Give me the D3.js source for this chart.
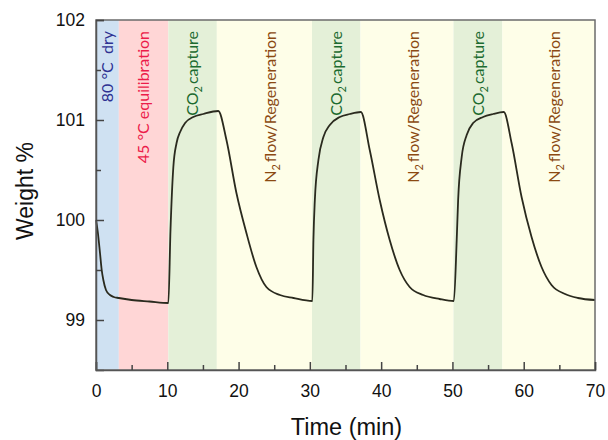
<!DOCTYPE html>
<html>
<head>
<meta charset="utf-8">
<script src="https://cdn.jsdelivr.net/npm/d3@7"></script>
<style>
  html, body { margin: 0; padding: 0; background: #fff; }
  svg { display: block; }
</style>
</head>
<body>
<svg id="chart" width="608" height="440"></svg>
<script>
// ---- Data ----
const timeMin = [
  0, 0.25, 0.56, 0.8, 1.03, 1.4, 1.96, 2.5, 3.2, 5, 7.5, 10.15,
  10.45, 10.85, 11.3, 11.8, 12.5, 13.65, 15.05, 17.15,
  18.3, 19.7, 21.1, 22.5, 23.9, 25.8, 27.7, 30.35,
  30.5, 30.7, 31.2, 31.9, 32.8, 34.2, 35.6, 37.15,
  38.4, 39.8, 41.2, 42.6, 44.0, 45.9, 48.2, 50.2,
  50.6, 50.8, 51.3, 52.0, 52.9, 54.3, 55.7, 57.2,
  58.3, 59.7, 61.1, 62.5, 63.9, 65.8, 67.6, 70
];
const weightPct = [
  100.0, 99.88, 99.67, 99.5, 99.4, 99.3, 99.25, 99.23, 99.22, 99.2, 99.185, 99.17,
  99.9, 100.53, 100.77, 100.88, 100.97, 101.03, 101.06, 101.09,
  100.8, 100.27, 99.87, 99.53, 99.33, 99.25, 99.22, 99.19,
  99.8, 100.2, 100.6, 100.83, 100.95, 101.03, 101.06, 101.08,
  100.7, 100.2, 99.8, 99.5, 99.33, 99.25, 99.21, 99.19,
  99.8, 100.2, 100.63, 100.85, 100.97, 101.03, 101.06, 101.08,
  100.77, 100.23, 99.83, 99.53, 99.35, 99.26, 99.22, 99.2
];

const bandStart = [0, 3.2, 10.15, 16.95, 30.3, 37.1, 50.15, 57.0];
const bandEnd   = [3.2, 10.15, 16.95, 30.3, 37.1, 50.15, 57.0, 70];
const bandType  = ["dry", "equil", "co2", "n2", "co2", "n2", "co2", "n2"];

const xMajorTicks = [0, 10, 20, 30, 40, 50, 60, 70];
const xMinorTicks = [5, 15, 25, 35, 45, 55, 65];
const yMajorTicks = [99, 100, 101, 102];
const yMinorTicks = [99.5, 100.5, 101.5];

const xTitle = "Time (min)";
const yTitle = "Weight %";

// ---- Styles ----
const bandFill = { dry: "#cfe1f2", equil: "#ffd6d6", co2: "#e4f0d8", n2: "#fefee8" };
const labelColor = { dry: "#2e3192", equil: "#ec1c4a", co2: "#1c6b30", n2: "#8b4a12" };

const svg = d3.select("#chart");
const L = 96, T = 20, R = 595, B = 370;

const x = d3.scaleLinear().domain([0, 70]).range([L, R]);
const y = d3.scaleLinear().domain([98.5, 102]).range([B, T]);

// bands
svg.append("g").selectAll("rect")
  .data(bandType)
  .join("rect")
  .attr("x", (d, i) => x(bandStart[i]))
  .attr("y", T)
  .attr("width", (d, i) => x(bandEnd[i]) - x(bandStart[i]))
  .attr("height", B - T)
  .attr("fill", d => bandFill[d]);

// band labels
const labelFont = "Lato, 'Open Sans', sans-serif";
const lg = svg.append("g").attr("font-family", labelFont).attr("font-size", 16);
bandType.forEach((d, i) => {
  let cx = (x(bandStart[i]) + x(bandEnd[i])) / 2;
  if (d === "n2") cx += 6;
  const t = lg.append("text")
    .attr("transform", `translate(${cx},31) rotate(-90)`)
    .attr("text-anchor", "end")
    .attr("dy", "0.35em")
    .attr("fill", labelColor[d]);
  if (d === "dry") {
    t.text("80 °C\u00a0\u00a0dry");
  } else if (d === "equil") {
    t.text("45 °C equilibration");
  } else if (d === "co2") {
    t.append("tspan").text("CO");
    t.append("tspan").attr("font-size", 11).attr("dy", 4).text("2");
    t.append("tspan").attr("dy", -4).text("\u2009capture");
  } else {
    t.append("tspan").text("N");
    t.append("tspan").attr("font-size", 11).attr("dy", 4).text("2");
    t.append("tspan").attr("dy", -4).text("\u2009flow/Regeneration");
  }
});

// curve
const line = d3.line()
  .x((d, i) => x(timeMin[i]))
  .y(d => y(d))
  .curve(d3.curveMonotoneX);

svg.append("path")
  .datum(weightPct)
  .attr("d", line)
  .attr("fill", "none")
  .attr("stroke", "#2a2a1e")
  .attr("stroke-width", 1.8)
  .attr("stroke-linejoin", "round");

// frame
svg.append("rect")
  .attr("x", L).attr("y", T)
  .attr("width", R - L).attr("height", B - T)
  .attr("fill", "none")
  .attr("stroke", "#6b6b6b")
  .attr("stroke-width", 1.5);

const axisFont = "'Liberation Sans', Arial, sans-serif";

// x axis
const xAxis = svg.append("g")
  .attr("transform", `translate(0,${B})`)
  .call(d3.axisBottom(x).tickValues(xMajorTicks).tickSize(-8).tickPadding(15).tickFormat(d3.format("d")));
xAxis.select(".domain").attr("stroke", "#555").attr("stroke-width", 1.5);
xAxis.selectAll(".tick line").attr("stroke", "#444").attr("stroke-width", 1.5);
xAxis.selectAll(".tick text").attr("font-family", axisFont).attr("font-size", 17.5).attr("fill", "#111");

const xMinor = svg.append("g")
  .attr("transform", `translate(0,${B})`)
  .call(d3.axisBottom(x).tickValues(xMinorTicks).tickSize(-5).tickFormat(""));
xMinor.select(".domain").remove();
xMinor.selectAll(".tick line").attr("stroke", "#444").attr("stroke-width", 1.5);

// y axis
const yAxis = svg.append("g")
  .attr("transform", `translate(${L},0)`)
  .call(d3.axisLeft(y).tickValues(yMajorTicks).tickSize(-8).tickPadding(11).tickFormat(d3.format("d")));
yAxis.select(".domain").attr("stroke", "#555").attr("stroke-width", 1.5);
yAxis.selectAll(".tick line").attr("stroke", "#444").attr("stroke-width", 1.5);
yAxis.selectAll(".tick text").attr("font-family", axisFont).attr("font-size", 17.5).attr("fill", "#111");

const yMinor = svg.append("g")
  .attr("transform", `translate(${L},0)`)
  .call(d3.axisLeft(y).tickValues(yMinorTicks).tickSize(-5).tickFormat(""));
yMinor.select(".domain").remove();
yMinor.selectAll(".tick line").attr("stroke", "#444").attr("stroke-width", 1.5);

// titles
svg.append("text")
  .attr("x", (L + R) / 2 + 1)
  .attr("y", 435)
  .attr("text-anchor", "middle")
  .attr("font-family", axisFont)
  .attr("font-size", 23.5)
  .attr("fill", "#111")
  .text(xTitle);

svg.append("text")
  .attr("transform", `translate(33,191) rotate(-90)`)
  .attr("text-anchor", "middle")
  .attr("font-family", axisFont)
  .attr("font-size", 23)
  .attr("fill", "#111")
  .text(yTitle);
</script>
</body>
</html>
